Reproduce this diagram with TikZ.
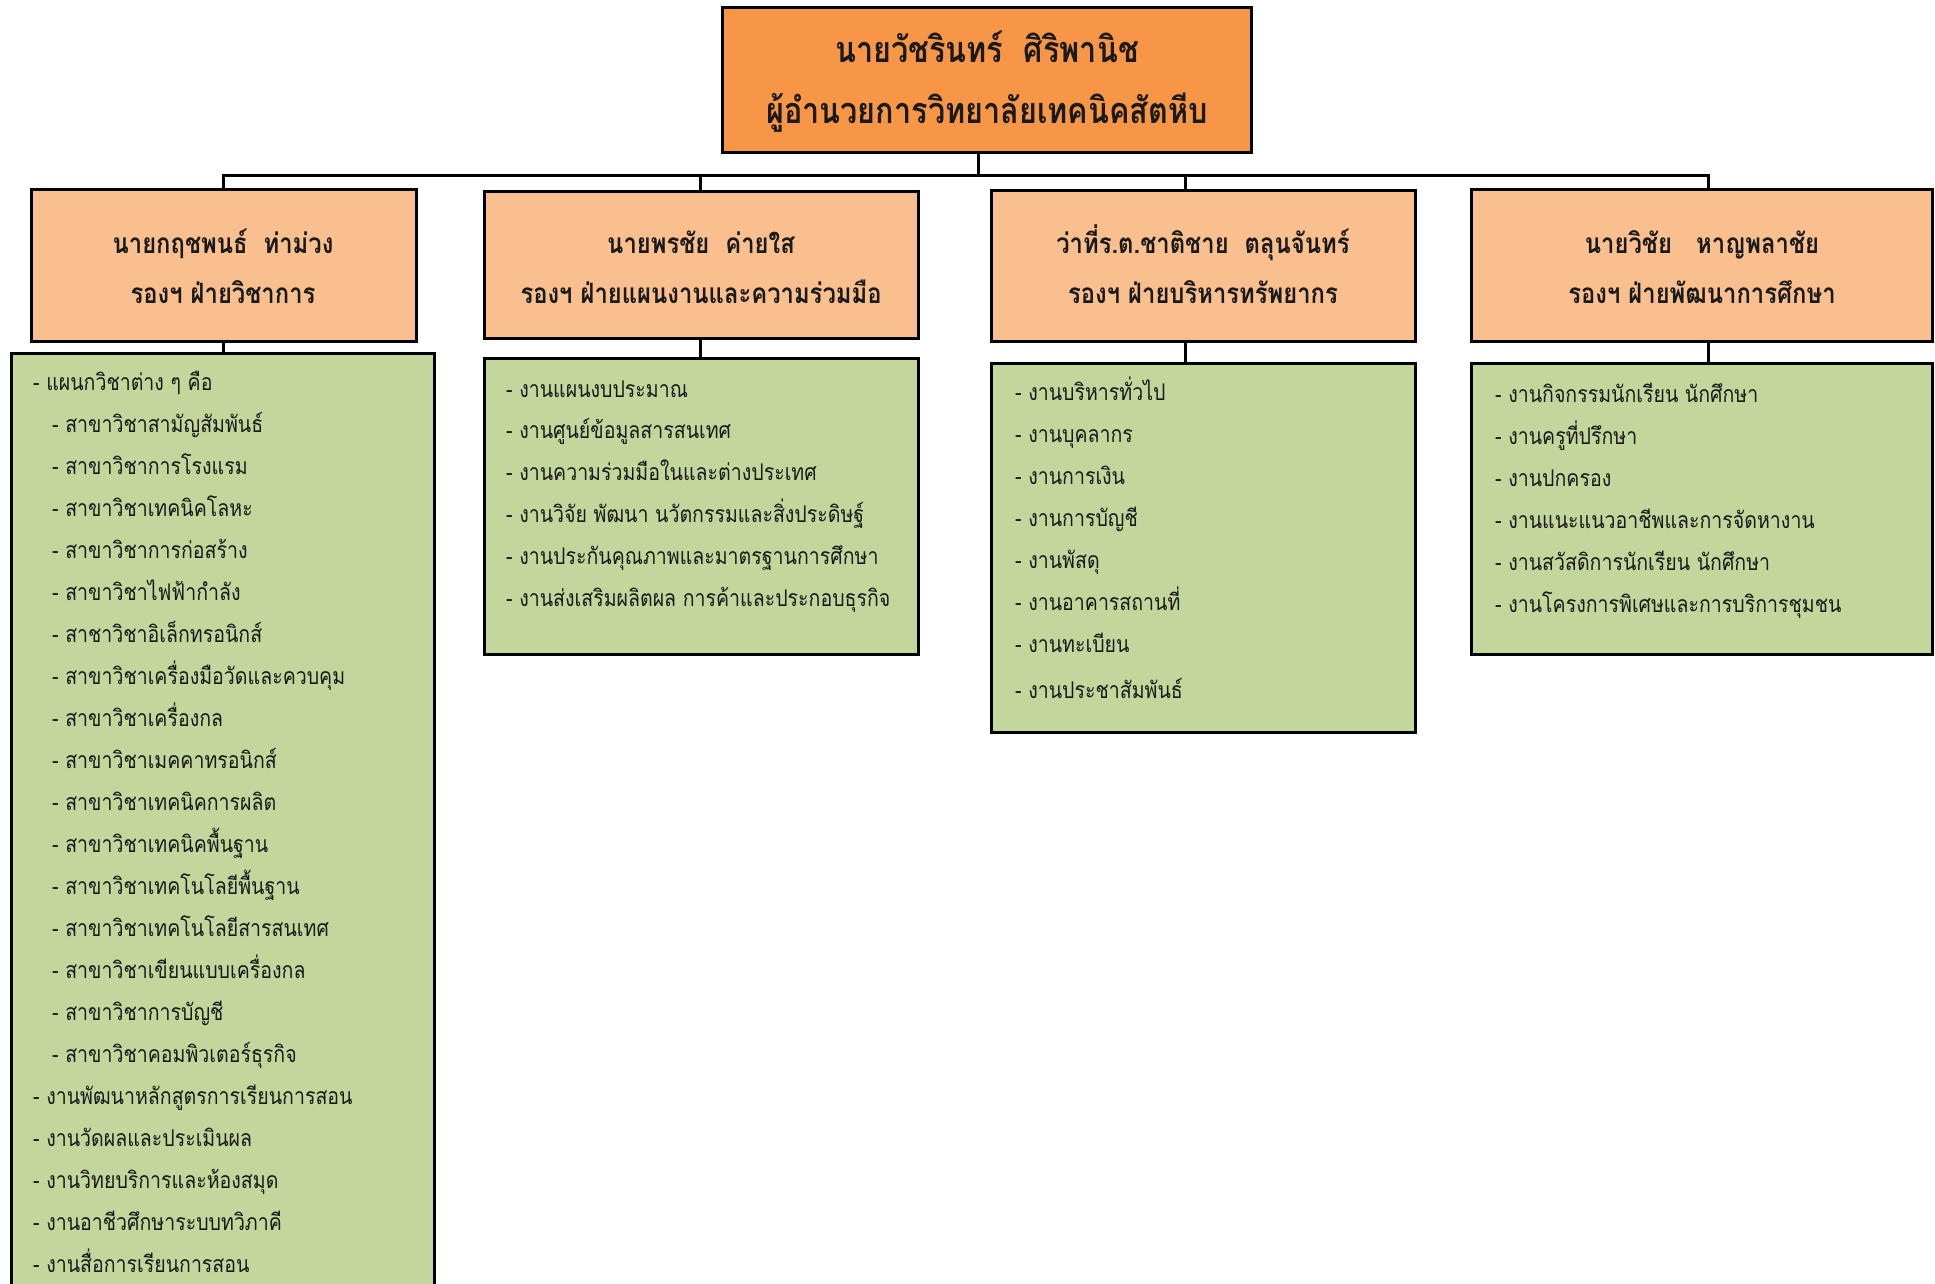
\documentclass[tikz,border=0pt]{standalone}
\usepackage{fontspec}
\newfontfamily\thai[Script=Thai,FakeStretch=0.85]{Loma}
\definecolor{topfill}{HTML}{F79646}
\definecolor{midfill}{HTML}{F9BF8F}
\definecolor{lowfill}{HTML}{C3D69B}
\definecolor{txt}{HTML}{1A1A1A}
\tikzset{
  boxbase/.style={draw=black, line width=3pt, inner sep=0pt, rectangle},
  topbox/.style={boxbase, fill=topfill},
  midbox/.style={boxbase, fill=midfill},
  lowbox/.style={boxbase, fill=lowfill},
  conn/.style={draw=black, line width=3pt},
  toptext/.style={inner sep=0pt, anchor=mid, text=txt, font=\thai\bfseries\fontsize{36}{42}\selectfont},
  midtext/.style={inner sep=0pt, anchor=mid, text=txt, font=\thai\bfseries\fontsize{28}{33}\selectfont},
  item/.style={inner sep=0pt, anchor=mid west, text=txt, font=\thai\fontsize{23}{27}\selectfont}
}
\begin{document}
\begin{tikzpicture}[x=1pt,y=-1pt]
\clip (0,0) rectangle (1935,1283);
\useasboundingbox (0,0) rectangle (1935,1283);
% boxes
\node[topbox, minimum width=529, minimum height=145] (top) at (986.5,79.5) {};
\node[midbox, minimum width=385, minimum height=152] (ma) at (223.5,265) {};
\node[midbox, minimum width=434, minimum height=147] (mb) at (701,264.5) {};
\node[midbox, minimum width=424, minimum height=151] (mc) at (1203,265.5) {};
\node[midbox, minimum width=461, minimum height=152] (md) at (1702,265) {};
\node[lowbox, minimum width=423, minimum height=960] (la) at (222.5,833) {};
\node[lowbox, minimum width=434, minimum height=296] (lb) at (701,506) {};
\node[lowbox, minimum width=424, minimum height=369] (lc) at (1203,547.5) {};
\node[lowbox, minimum width=461, minimum height=291] (ld) at (1702,508.5) {};
% connectors
\coordinate (tp) at (978,175);
\coordinate (pa) at (223,175);
\coordinate (pb) at (700,175);
\coordinate (pc) at (1185,175);
\coordinate (pd) at (1708,175);
\draw[conn] (tp |- top.south) -- (tp);
\draw[conn] (pa |- ma.north) -- (pa) -- (pd) -- (pd |- md.north);
\draw[conn] (pb) -- (pb |- mb.north);
\draw[conn] (pc) -- (pc |- mc.north);
\draw[conn] (pa |- ma.south) -- (pa |- la.north);
\draw[conn] (pb |- mb.south) -- (pb |- lb.north);
\draw[conn] (pc |- mc.south) -- (pc |- lc.north);
\draw[conn] (pd |- md.south) -- (pd |- ld.north);
% top texts
\node[toptext] (t1) at (987,60) {นายวัชรินทร์\ \ ศิริพานิช};
\node[toptext] (t2) at (987,121) {ผู้อำนวยการวิทยาลัยเทคนิคสัตหีบ};
\node[midtext] (a1) at (223,251) {นายกฤชพนธ์\ \ ท่าม่วง};
\node[midtext] (a2) at (223,301) {รองฯ ฝ่ายวิชาการ};
\node[midtext] (b1) at (701,251) {นายพรชัย\ \ ค่ายใส};
\node[midtext] (b2) at (701,301) {รองฯ ฝ่ายแผนงานและความร่วมมือ};
\node[midtext] (c1) at (1203,251) {ว่าที่ร.ต.ชาติชาย\ \ ตลุนจันทร์};
\node[midtext] (c2) at (1203,301) {รองฯ ฝ่ายบริหารทรัพยากร};
\node[midtext] (d1) at (1702,251) {นายวิชัย\ \ \ หาญพลาชัย};
\node[midtext] (d2) at (1702,301) {รองฯ ฝ่ายพัฒนาการศึกษา};
% list A
\node[item] (la0) at (33,388) {- แผนกวิชาต่าง ๆ คือ};
\foreach \t [count=\i] in {สาขาวิชาสามัญสัมพันธ์, สาขาวิชาการโรงแรม, สาขาวิชาเทคนิคโลหะ, สาขาวิชาการก่อสร้าง, สาขาวิชาไฟฟ้ากำลัง, สาชาวิชาอิเล็กทรอนิกส์, สาขาวิชาเครื่องมือวัดและควบคุม, สาขาวิชาเครื่องกล, สาขาวิชาเมคคาทรอนิกส์, สาขาวิชาเทคนิคการผลิต, สาขาวิชาเทคนิคพื้นฐาน, สาขาวิชาเทคโนโลยีพื้นฐาน, สาขาวิชาเทคโนโลยีสารสนเทศ, สาขาวิชาเขียนแบบเครื่องกล, สาขาวิชาการบัญชี, สาขาวิชาคอมพิวเตอร์ธุรกิจ}
  \node[item] (la\i) at (52,388+42*\i) {- \t};
\foreach \t [count=\i from 17] in {งานพัฒนาหลักสูตรการเรียนการสอน, งานวัดผลและประเมินผล, งานวิทยบริการและห้องสมุด, งานอาชีวศึกษาระบบทวิภาคี, งานสื่อการเรียนการสอน}
  \node[item] (la\i) at (33,388+42*\i) {- \t};
% list B
\foreach \t [count=\i from 0] in {งานแผนงบประมาณ, งานศูนย์ข้อมูลสารสนเทศ, งานความร่วมมือในและต่างประเทศ, งานวิจัย พัฒนา นวัตกรรมและสิ่งประดิษฐ์, งานประกันคุณภาพและมาตรฐานการศึกษา, งานส่งเสริมผลิตผล การค้าและประกอบธุรกิจ}
  \node[item] (lb\i) at (506,395+41.8*\i) {- \t};
% list C
\foreach \t [count=\i from 0] in {งานบริหารทั่วไป, งานบุคลากร, งานการเงิน, งานการบัญชี, งานพัสดุ, งานอาคารสถานที่, งานทะเบียน}
  \node[item] (lc\i) at (1015,398+42*\i) {- \t};
\node[item] (lc7) at (1015,696) {- งานประชาสัมพันธ์};
% list D
\foreach \t [count=\i from 0] in {งานกิจกรรมนักเรียน นักศึกษา, งานครูที่ปรึกษา, งานปกครอง, งานแนะแนวอาชีพและการจัดหางาน, งานสวัสดิการนักเรียน นักศึกษา, งานโครงการพิเศษและการบริการชุมชน}
  \node[item] (ld\i) at (1495,400+42*\i) {- \t};
\end{tikzpicture}
\end{document}
